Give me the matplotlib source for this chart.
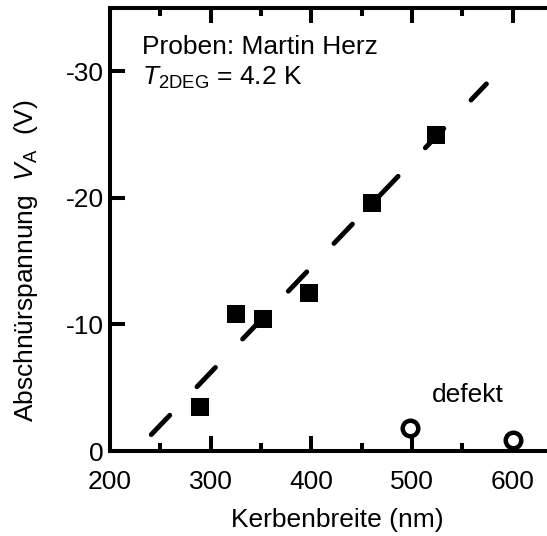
import matplotlib
matplotlib.use('Agg')
import matplotlib.pyplot as plt
from matplotlib.ticker import MultipleLocator

plt.rcParams['font.family'] = ['Liberation Sans', 'DejaVu Sans']
plt.rcParams['mathtext.fontset'] = 'custom'
plt.rcParams['mathtext.rm'] = 'Liberation Sans'
plt.rcParams['mathtext.it'] = 'Liberation Sans:italic'
plt.rcParams['axes.unicode_minus'] = False

# measured samples (Kerbenbreite in nm, Abschnuerspannung in V)
width_ok = [289, 325, 352, 398, 460, 524]
volt_ok = [-3.5, -10.8, -10.4, -12.5, -19.6, -25.0]

# defective samples
width_defekt = [498, 600]
volt_defekt = [-1.8, -0.87]

# linear guide line end points
fit_x = [241, 574]
fit_y = [-1.3, -29.0]

fs = 19

fig = plt.figure(figsize=(5.47, 5.36), dpi=100)
ax = fig.add_axes([0.2011, 0.1585, 0.828, 0.8267])

line, = ax.plot(fit_x, fit_y, color='black', lw=3.5, dash_capstyle='round')
line.set_dashes([5.5, 8.1])

ax.plot(width_ok, volt_ok, 's', color='black', ms=13, mew=0)
ax.plot(width_defekt, volt_defekt, 'o', mfc='white', mec='black', ms=11.2, mew=3.2)

ax.text(232, -31.4, 'Proben: Martin Herz', fontsize=fs)
ax.text(232, -28.9, r'$T_{\rm 2DEG}$ = 4.2 K', fontsize=fs)
ax.text(520, -3.86, 'defekt', fontsize=fs)

ax.set_xlim(200, 650)
ax.set_ylim(0, -35)

ax.xaxis.set_major_locator(MultipleLocator(100))
ax.xaxis.set_minor_locator(MultipleLocator(50))
ax.set_yticks([0, -10, -20, -30])

ax.tick_params(which='both', direction='in', top=True, right=True, width=2.9)
ax.tick_params(which='major', length=10.8, labelsize=fs)
ax.tick_params(which='minor', length=5.8)
ax.tick_params(axis='x', pad=14)
ax.tick_params(axis='y', pad=4.5)

for spine in ax.spines.values():
    spine.set_linewidth(2.9)

ax.set_xlabel('Kerbenbreite (nm)', fontsize=fs)
ax.set_ylabel(r'Abschnürspannung  $V_{\rm A}$  (V)', fontsize=fs)
ax.xaxis.set_label_coords(0.502, -0.129)
ax.yaxis.set_label_coords(-0.155, 0.429)

fig.savefig('out.png', dpi=100)
